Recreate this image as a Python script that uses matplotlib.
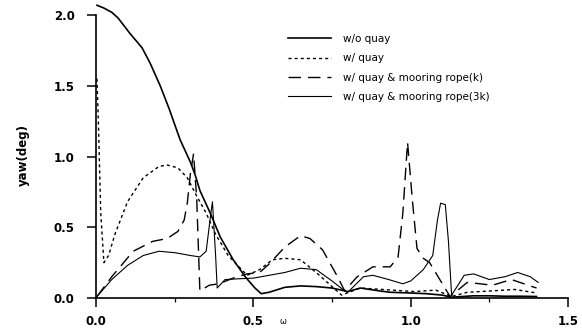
import matplotlib
matplotlib.use('Agg')
import matplotlib.pyplot as plt
from matplotlib.ticker import MultipleLocator

# yaw response vs. frequency for four mooring configurations
x_no_quay = [0.003, 0.025, 0.05, 0.07, 0.108, 0.146, 0.172, 0.204, 0.232, 0.267, 0.30,
             0.315, 0.33, 0.363, 0.395, 0.436, 0.474, 0.505, 0.525, 0.55, 0.6, 0.65,
             0.7, 0.75, 0.8, 0.84, 0.9, 0.935, 1.0, 1.05, 1.1, 1.13, 1.2, 1.25, 1.3,
             1.35, 1.4]
y_no_quay = [2.07, 2.05, 2.02, 1.98, 1.87, 1.77, 1.66, 1.50, 1.34, 1.12, 0.96,
             0.87, 0.76, 0.60, 0.43, 0.27, 0.15, 0.07, 0.03, 0.04, 0.075, 0.085,
             0.08, 0.07, 0.045, 0.07, 0.05, 0.04, 0.035, 0.03, 0.02, 0.005, 0.015,
             0.015, 0.012, 0.012, 0.01]

x_quay = [0.003, 0.008, 0.015, 0.025, 0.04, 0.06, 0.1, 0.15, 0.2, 0.226, 0.26, 0.29,
          0.32, 0.35, 0.38, 0.42, 0.48, 0.52, 0.56, 0.6, 0.65, 0.71, 0.75, 0.78, 0.84,
          0.91, 1.01, 1.08, 1.13, 1.18, 1.26, 1.33, 1.4]
y_quay = [1.55, 1.2, 0.6, 0.25, 0.3, 0.45, 0.68, 0.85, 0.93, 0.94, 0.92, 0.85,
          0.72, 0.6, 0.45, 0.3, 0.16, 0.2, 0.27, 0.28, 0.27, 0.16, 0.08, 0.02, 0.07,
          0.06, 0.045, 0.055, 0.01, 0.04, 0.05, 0.06, 0.035]

x_rope_k = [0.003, 0.05, 0.118, 0.18, 0.226, 0.26, 0.28, 0.29, 0.30, 0.31, 0.32,
            0.33, 0.36, 0.39, 0.436, 0.48, 0.52, 0.55, 0.6, 0.65, 0.68, 0.72, 0.77,
            0.79, 0.83, 0.88, 0.935, 0.96, 0.975, 0.99, 1.005, 1.02, 1.04, 1.06,
            1.125, 1.18, 1.26, 1.32, 1.4]
y_rope_k = [0.01, 0.15, 0.33, 0.40, 0.42, 0.47, 0.55, 0.67, 0.88, 1.02, 0.7,
            0.05, 0.09, 0.1, 0.14, 0.17, 0.18, 0.24, 0.36, 0.44, 0.42, 0.34, 0.14,
            0.05, 0.15, 0.22, 0.22, 0.29, 0.6, 1.1, 0.7, 0.35, 0.28, 0.25,
            0.01, 0.11, 0.09, 0.13, 0.07]

x_rope_3k = [0.003, 0.05, 0.1, 0.15, 0.2, 0.25, 0.3, 0.33, 0.35, 0.365, 0.37, 0.38,
             0.385, 0.41, 0.45, 0.5, 0.55, 0.6, 0.65, 0.7, 0.75, 0.79, 0.8, 0.85,
             0.88, 0.93, 0.975, 1.0, 1.04, 1.07, 1.085, 1.095, 1.11, 1.12, 1.13,
             1.17, 1.2, 1.25, 1.3, 1.34, 1.38, 1.405]
y_rope_3k = [0.01, 0.13, 0.23, 0.3, 0.33, 0.32, 0.3, 0.29, 0.33, 0.6, 0.68, 0.3,
             0.07, 0.13, 0.135, 0.14, 0.16, 0.18, 0.21, 0.2, 0.12, 0.05, 0.04, 0.15,
             0.16, 0.13, 0.1, 0.12, 0.2, 0.3, 0.55, 0.67, 0.66, 0.4, 0.02,
             0.16, 0.17, 0.13, 0.15, 0.18, 0.15, 0.11]

labels = ['w/o quay', 'w/ quay', 'w/ quay & mooring rope(k)', 'w/ quay & mooring rope(3k)']

fig = plt.figure(figsize=(5.82, 3.34), dpi=100)
ax = fig.add_axes([0.165, 0.108, 0.811, 0.889])

ax.plot(x_no_quay, y_no_quay, color='black', lw=1.2, clip_on=False, label=labels[0])
ax.plot(x_quay, y_quay, color='black', lw=1.0, ls=(0, (2.2, 2.2)), label=labels[1])
ax.plot(x_rope_k, y_rope_k, color='black', lw=1.0, ls=(0, (9, 5)), label=labels[2])
ax.plot(x_rope_3k, y_rope_3k, color='black', lw=0.8, label=labels[3])

ax.set_xlim(0, 1.5)
ax.set_ylim(0, 2.1)
ax.spines['top'].set_visible(False)
ax.spines['right'].set_visible(False)
ax.spines['left'].set_bounds(0, 2.0)
ax.spines['left'].set_linewidth(1.2)
ax.spines['bottom'].set_linewidth(1.2)

ax.xaxis.set_minor_locator(MultipleLocator(0.25))
ax.set_yticks([0, 0.5, 1.0, 1.5, 2.0])
ax.set_xticks([0, 0.5, 1.0, 1.5])
ax.set_xticklabels(['0.0', '0.5', '1.0', '1.5'])
ax.set_yticklabels(['0.0', '0.5', '1.0', '1.5', '2.0'])
ax.tick_params(which='major', direction='out', length=6.5, width=1.1, labelsize=8.5, pad=6)
ax.tick_params(axis='y', which='major', pad=9)
ax.tick_params(which='minor', direction='out', length=3, width=0.9)
for lbl in ax.get_xticklabels() + ax.get_yticklabels():
    lbl.set_fontweight('bold')

ax.set_ylabel('yaw(deg)', fontsize=8.5, fontweight='bold')
ax.yaxis.set_label_coords(-0.14, 0.48)
fig.text(283 / 582, 1 - 321 / 334, 'ω', fontsize=6, ha='center', va='center')

ax.legend(loc='upper left', bbox_to_anchor=(288 / 582, 1 - 34 / 334),
          bbox_transform=fig.transFigure, frameon=False, fontsize=7.5,
          handlelength=4.1, handletextpad=1.2, labelspacing=0.9,
          borderpad=0, borderaxespad=0)

fig.savefig('out.png', dpi=100)
